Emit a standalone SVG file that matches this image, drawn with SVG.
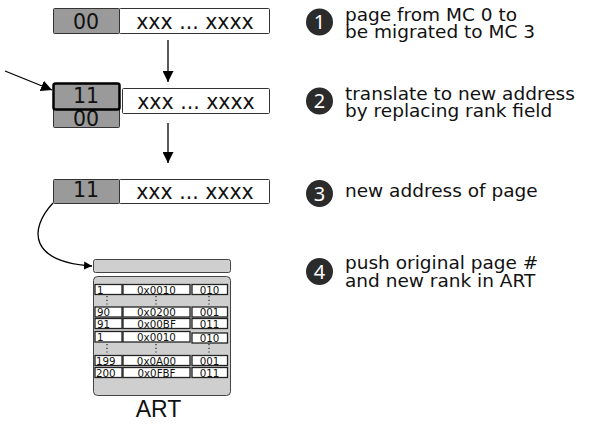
<svg xmlns="http://www.w3.org/2000/svg" width="589" height="429" viewBox="0 0 589 429">
<style>
.g{fill:#9a9a9a;stroke:#333;stroke-width:1}
.w{fill:#fff;stroke:#333;stroke-width:1}
.big{font-family:"DejaVu Sans",sans-serif;font-size:20.5px;fill:#111;text-anchor:middle}
.lab{font-family:"DejaVu Sans",sans-serif;font-size:18.5px;fill:#111}
.num{font-family:"Noto Sans",sans-serif;font-size:20px;fill:#fff;text-anchor:middle}
.cell{fill:#fff;stroke:#222;stroke-width:1.3}
.t{font-family:"DejaVu Sans",sans-serif;font-size:10.3px;fill:#111}
.tc{text-anchor:middle}
.dot{stroke:#222;stroke-width:1.2;stroke-dasharray:1.2 2.5}
.ln{stroke:#000;stroke-width:1.3;fill:none}
</style>
<defs>
<marker id="ah" viewBox="0 0 10 10" refX="10" refY="5" markerWidth="8" markerHeight="8" markerUnits="userSpaceOnUse" orient="auto"><path d="M0,0 L10,5 L0,10 z" fill="#000"/></marker>
<marker id="ah2" viewBox="0 0 10 10" refX="10" refY="5" markerWidth="11" markerHeight="11" markerUnits="userSpaceOnUse" orient="auto"><path d="M0,0 L10,5 L0,10 z" fill="#000"/></marker>
</defs>

<g id="addr1">
<rect class="g" x="53.5" y="8.5" width="66" height="25" rx="1"/>
<rect class="w" x="119.5" y="8.5" width="150" height="25" rx="1"/>
<text class="big" x="86" y="28.5">00</text>
<text class="big" x="195" y="28.5">xxx ... xxxx</text>
</g>

<g id="addr2">
<rect class="g" x="53.5" y="106.5" width="66" height="21" rx="1"/>
<text class="big" x="86" y="126">00</text>
<rect class="g" x="53.5" y="83.5" width="66" height="26" rx="2" style="stroke:#000;stroke-width:2.5"/>
<text class="big" x="86" y="103">11</text>
<rect class="w" x="122.5" y="88.5" width="147" height="25" rx="1"/>
<text class="big" x="196" y="109">xxx ... xxxx</text>
</g>

<g id="addr3">
<rect class="g" x="53.5" y="179.5" width="66" height="24" rx="1"/>
<rect class="w" x="119.5" y="179.5" width="150" height="24" rx="1"/>
<text class="big" x="86" y="197">11</text>
<text class="big" x="195" y="199">xxx ... xxxx</text>
</g>

<g id="connectors">
<line class="ln" x1="168" y1="40" x2="168" y2="82" marker-end="url(#ah2)"/>
<line class="ln" x1="168" y1="123" x2="168" y2="163" marker-end="url(#ah2)"/>
<line class="ln" x1="5" y1="71" x2="52" y2="90" marker-end="url(#ah2)"/>
<path class="ln" d="M53,203 C28,230 30,262 92,266" marker-end="url(#ah)"/>
</g>

<g id="steps">
<circle cx="319.5" cy="22" r="13.5" fill="#2b2b2b"/>
<text class="num" x="319.5" y="29">1</text>
<text class="lab" x="345" y="21">page from MC 0 to<tspan x="345" dy="17">be migrated to MC 3</tspan></text>
<circle cx="319.5" cy="101" r="13.5" fill="#2b2b2b"/>
<text class="num" x="319.5" y="108">2</text>
<text class="lab" x="345" y="100">translate to new address<tspan x="345" dy="17">by replacing rank field</tspan></text>
<circle cx="319.5" cy="193.5" r="13.5" fill="#2b2b2b"/>
<text class="num" x="319.5" y="200.5">3</text>
<text class="lab" x="345" y="197">new address of page</text>
<circle cx="319.5" cy="271.5" r="13.5" fill="#2b2b2b"/>
<text class="num" x="319.5" y="278.5">4</text>
<text class="lab" x="345" y="269">push original page #<tspan x="345" dy="18">and new rank in ART</tspan></text>
</g>

<g id="art">
<rect x="93.5" y="259.5" width="137" height="13" rx="2" fill="#cfcfcf" stroke="#444"/>
<rect x="93.5" y="276.5" width="137" height="119" rx="4" fill="#cfcfcf" stroke="#444"/>
<g id="row1">
<rect class="cell" x="95" y="284.5" width="27" height="10"/><rect class="cell" x="123" y="284.5" width="67" height="10"/><rect class="cell" x="192" y="284.5" width="35.5" height="10"/>
<text class="t" x="97" y="293.5">1</text><text class="t tc" x="156.5" y="293.5">0x0010</text><text class="t tc" x="209.5" y="293.5">010</text>
</g>
<line class="dot" x1="107" y1="296" x2="107" y2="306"/><line class="dot" x1="156" y1="296" x2="156" y2="306"/><line class="dot" x1="209" y1="296" x2="209" y2="306"/>
<g id="row2">
<rect class="cell" x="95" y="307" width="27" height="10"/><rect class="cell" x="123" y="307" width="67" height="10"/><rect class="cell" x="192" y="307" width="35.5" height="10"/>
<text class="t" x="97" y="316">90</text><text class="t tc" x="156.5" y="316">0x0200</text><text class="t tc" x="209.5" y="316">001</text>
</g>
<g id="row3">
<rect class="cell" x="95" y="318.5" width="27" height="10"/><rect class="cell" x="123" y="318.5" width="67" height="10"/><rect class="cell" x="192" y="318.5" width="35.5" height="10"/>
<text class="t" x="97" y="327.5">91</text><text class="t tc" x="156.5" y="327.5">0x00BF</text><text class="t tc" x="209.5" y="327.5">011</text>
</g>
<g id="row4">
<rect class="cell" x="95" y="331.5" width="27" height="10.5"/><rect class="cell" x="123" y="331.5" width="67" height="10.5"/><rect class="cell" x="192" y="333" width="35.5" height="10"/>
<text class="t" x="97" y="340.5">1</text><text class="t tc" x="156.5" y="340.5">0x0010</text><text class="t tc" x="209.5" y="342">010</text>
</g>
<line class="dot" x1="107" y1="344" x2="107" y2="354"/><line class="dot" x1="156" y1="344" x2="156" y2="354"/><line class="dot" x1="209" y1="344" x2="209" y2="354"/>
<g id="row5">
<rect class="cell" x="95" y="355.5" width="27" height="10"/><rect class="cell" x="123" y="355.5" width="67" height="10"/><rect class="cell" x="192" y="355.5" width="35.5" height="10"/>
<text class="t" x="96" y="364.5">199</text><text class="t tc" x="156.5" y="364.5">0x0A00</text><text class="t tc" x="209.5" y="364.5">001</text>
</g>
<g id="row6">
<rect class="cell" x="95" y="367.5" width="27" height="10"/><rect class="cell" x="123" y="367.5" width="67" height="10"/><rect class="cell" x="192" y="367.5" width="35.5" height="10"/>
<text class="t" x="96" y="376.5">200</text><text class="t tc" x="156.5" y="376.5">0x0FBF</text><text class="t tc" x="209.5" y="376.5">011</text>
</g>
<text x="158.5" y="417" style="font-family:'Liberation Sans',sans-serif;font-size:23px;fill:#111;text-anchor:middle">ART</text>
</g>
</svg>
